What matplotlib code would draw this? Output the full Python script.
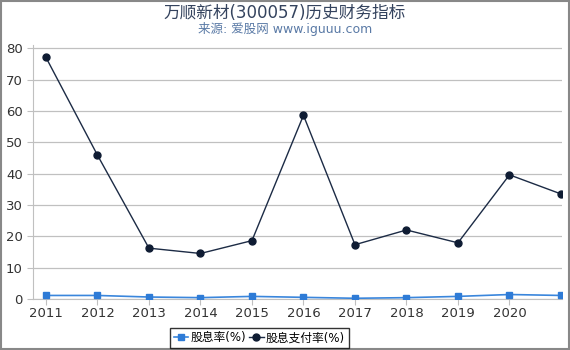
import matplotlib
matplotlib.use("Agg")
import matplotlib.pyplot as plt

plt.rcParams['font.family'] = ['DejaVu Sans', 'Noto Sans CJK SC']

years = [2011, 2012, 2013, 2014, 2015, 2016, 2017, 2018, 2019, 2020, 2021]
tick_years = [2011, 2012, 2013, 2014, 2015, 2016, 2017, 2018, 2019, 2020]
dividend_yield = [1.1, 1.1, 0.6, 0.4, 0.8, 0.5, 0.2, 0.4, 0.8, 1.4, 1.1]
payout_ratio = [77.1, 45.9, 16.2, 14.5, 18.6, 58.6, 17.3, 22.0, 17.9, 39.6, 33.5]

fig = plt.figure(figsize=(5.7, 3.5), dpi=100)
ax = fig.add_axes([0.058, 0.146, 0.928, 0.725])

ax.plot(years, dividend_yield, color='#3a86dc', lw=1.2, marker='s', ms=5,
        mfc='#2e7bd6', mec='#2e7bd6', label='股息率(%)', zorder=3)
ax.plot(years, payout_ratio, color='#1c2b45', lw=1.0, marker='o', ms=5,
        mfc='#0f1c33', mec='#0f1c33', label='股息支付率(%)', zorder=3)

ax.set_xlim(2010.75, 2021.02)
ax.set_ylim(0, 81)
ax.set_yticks(range(0, 81, 10))
ax.set_xticks(tick_years)
ax.grid(axis='y', color='#c0c0c0', lw=0.9)
ax.set_axisbelow(True)
for s in ['top', 'right']:
    ax.spines[s].set_visible(False)
ax.spines['left'].set_color('#c0c0c0')
ax.spines['bottom'].set_color('#c0c0c0')
ax.tick_params(axis='both', colors='#c0c0c0', labelcolor='#333333', labelsize=9.5, length=4)
ax.tick_params(axis='x', pad=2)

fig.text(0.5, 0.962, '万顺新材(300057)历史财务指标', ha='center', va='center',
         fontsize=12, color='#34435e')
fig.text(0.5, 0.918, '来源: 爱股网 www.iguuu.com', ha='center', va='center',
         fontsize=9, color='#5a7aa6')

leg = fig.legend(loc='center', bbox_to_anchor=(0.455, 0.035), ncol=2, fontsize=8.5,
                 frameon=True, fancybox=False, edgecolor='black', handlelength=1.2,
                 handletextpad=0.2, columnspacing=0.3, borderpad=0.3, borderaxespad=0)
leg.get_frame().set_linewidth(1.0)

fig.patches.append(plt.Rectangle((0.001, 0.002), 0.997, 0.995, transform=fig.transFigure,
                                 fill=False, edgecolor='#888888', lw=1.5))

fig.savefig('out.png', dpi=100)
